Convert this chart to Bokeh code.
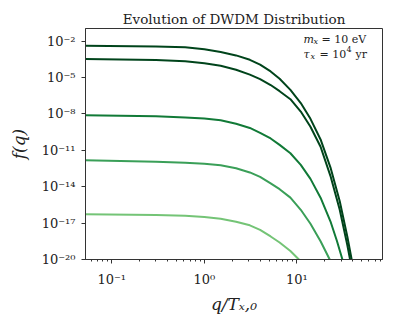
from bokeh.plotting import figure
from bokeh.models import Range1d, FixedTicker, CustomJSTickFormatter, Label
from bokeh.embed import file_html
from bokeh.resources import INLINE

# ---- data (q / T_x,0  and  log10 f(q)) ----
q_1 = [0.05, 0.3, 0.62, 1.0, 1.5, 2.2, 3.1, 4.0, 5.2, 6.5, 8.5, 11, 14, 18, 23, 29, 35, 39, 41]
logf_1 = [-2.37, -2.43, -2.50, -2.66, -2.89, -3.17, -3.53, -3.93, -4.49, -5.10, -6.01,
          -7.10, -8.40, -10.1, -12.4, -15.2, -18.1, -20.0, -21.0]

q_2 = [0.05, 0.3, 0.62, 1.0, 1.5, 2.2, 3.1, 4.0, 5.2, 6.5, 8.5, 11, 14, 18, 23, 29, 35, 37.5, 40]
logf_2 = [-3.47, -3.55, -3.66, -3.82, -4.02, -4.35, -4.75, -5.12, -5.61, -6.12, -6.78,
          -7.80, -9.05, -10.7, -13.1, -15.9, -18.8, -20.0, -21.2]

q_3 = [0.05, 0.3, 0.62, 1.0, 1.5, 2.2, 3.1, 4.0, 5.2, 6.5, 8.5, 11, 14, 18, 23, 27, 31, 33]
logf_3 = [-8.10, -8.18, -8.29, -8.38, -8.51, -8.80, -9.15, -9.55, -10.02, -10.55, -11.24,
          -12.2, -13.35, -14.9, -16.85, -18.45, -20.0, -20.8]

q_4 = [0.05, 0.3, 0.62, 1.0, 1.5, 2.2, 3.1, 4.0, 5.2, 6.5, 8.5, 11, 14, 18, 22.6, 24]
logf_4 = [-11.82, -11.93, -12.02, -12.10, -12.23, -12.48, -12.82, -13.18, -13.72, -14.2,
          -14.9, -15.9, -17.05, -18.5, -20.0, -20.5]

q_5 = [0.05, 0.3, 0.62, 1.0, 1.5, 2.2, 3.1, 4.0, 5.2, 6.5, 8.5, 10.5, 11.5]
logf_5 = [-16.26, -16.33, -16.40, -16.50, -16.64, -16.88, -17.18, -17.55, -18.1, -18.6,
          -19.3, -20.0, -20.35]

series_q = [q_5, q_4, q_3, q_2, q_1]
series_logf = [logf_5, logf_4, logf_3, logf_2, logf_1]
colors = ["#74c476", "#3a9f58", "#117a37", "#00441b", "#00441b"]

y_major = [1e-20, 1e-17, 1e-14, 1e-11, 1e-8, 1e-5, 1e-2]
x_major = [0.1, 1.0, 10.0]
x_minor = [0.06, 0.07, 0.08, 0.09,
           0.2, 0.3, 0.4, 0.5, 0.6, 0.7, 0.8, 0.9,
           2, 3, 4, 5, 6, 7, 8, 9,
           20, 30, 40, 50, 60, 70, 80]

title = "Evolution of DWDM Distribution"
SERIF = "DejaVu Serif"

p = figure(width=388, height=316, x_axis_type="log", y_axis_type="log",
           x_range=Range1d(0.052, 84), y_range=Range1d(1e-20, 10 ** -0.95),
           output_backend="svg", toolbar_location=None, title=title)
p.min_border_left = 85
p.min_border_right = 6
p.min_border_top = 28
p.min_border_bottom = 57
p.background_fill_color = "white"
p.border_fill_color = "white"
p.outline_line_color = "#333333"
p.outline_line_width = 1
p.xgrid.visible = False
p.ygrid.visible = False

p.title.text_font = SERIF
p.title.text_font_size = "13.5px"
p.title.text_font_style = "normal"
p.title.text_color = "#222222"
p.title.align = "center"
p.title.standoff = 3

for qs, lf, c in zip(series_q, series_logf, colors):
    p.line(qs, [10 ** v for v in lf], line_color=c, line_width=2)

fmt = CustomJSTickFormatter(code="""
const sup = {"-":"\u207b","0":"\u2070","1":"\u00b9","2":"\u00b2","3":"\u00b3","4":"\u2074",
             "5":"\u2075","6":"\u2076","7":"\u2077","8":"\u2078","9":"\u2079"};
const e = Math.round(Math.log10(tick));
return "10" + String(e).split("").map(c => sup[c]).join("");
""")

for ax in (p.xaxis[0], p.yaxis[0]):
    ax.formatter = fmt
    ax.major_label_text_font = SERIF
    ax.major_label_text_font_size = "13px"
    ax.major_label_text_color = "#222222"
    ax.axis_line_color = "#333333"
    ax.major_tick_line_color = "#333333"
    ax.minor_tick_line_color = "#333333"
    ax.major_tick_in = 0
    ax.major_tick_out = 4
    ax.minor_tick_in = 0
    ax.minor_tick_out = 2
    ax.axis_label_text_font = SERIF
    ax.axis_label_text_font_style = "italic"
    ax.axis_label_text_font_size = "17px"
    ax.axis_label_text_color = "#222222"

p.xaxis.ticker = FixedTicker(ticks=x_major, minor_ticks=x_minor)
p.yaxis.ticker = FixedTicker(ticks=y_major, minor_ticks=[])
p.xaxis.axis_label = "q/T\u2093,\u2080"
p.yaxis.axis_label = "f(q)"
p.xaxis.major_label_standoff = 8
p.yaxis.major_label_standoff = 6
p.xaxis.axis_label_standoff = 4
p.yaxis.axis_label_standoff = 10

# annotation (parameter box, top right)
ann_x = 11.75
ann_y1 = 10 ** -1.82
ann_y2 = 10 ** -3.06
def lab(text, y, dx, dy=0, size="11px", style="normal"):
    p.add_layout(Label(x=ann_x, y=y, x_offset=dx, y_offset=dy, text=text,
                       text_font=SERIF, text_font_size=size, text_font_style=style,
                       text_color="#222222", text_baseline="alphabetic", text_align="left"))

lab("m", ann_y1, 0, style="italic")
lab("x", ann_y1, 10, -2, size="8px", style="italic")
lab("= 10 eV", ann_y1, 18)
lab("\u03c4", ann_y2, 0, style="italic")
lab("x", ann_y2, 7, -2, size="8px", style="italic")
lab("= 10", ann_y2, 16)
lab("4", ann_y2, 43, 5, size="8px")
lab("yr", ann_y2, 52)

open("out.html", "w").write(file_html(p, INLINE))
